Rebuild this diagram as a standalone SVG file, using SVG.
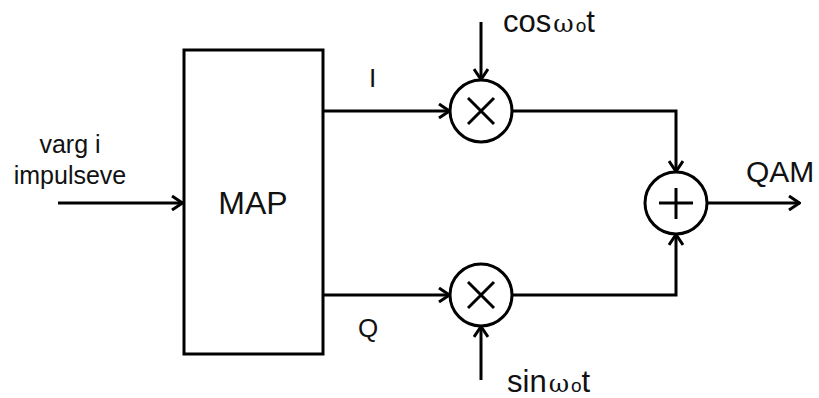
<svg xmlns="http://www.w3.org/2000/svg" width="819" height="398" viewBox="0 0 819 398">
<style>
.ln{fill:none;stroke:#000;stroke-width:3;stroke-linecap:butt}
.sh{fill:#fff;stroke:#000;stroke-width:3}
.t{font-family:"Liberation Sans",Arial,sans-serif;fill:#111}
.w{font-family:"DejaVu Serif",serif;font-size:25px}
.o{font-size:19px}
</style>
<defs>
<marker id="ah" viewBox="0 0 14 16" refX="13" refY="8" markerWidth="14" markerHeight="16" markerUnits="userSpaceOnUse" orient="auto">
<path d="M2,1 L12.5,8 L2,15" fill="none" stroke="#000" stroke-width="3"/>
</marker>
</defs>
<rect width="819" height="398" fill="#fff"/>
<g id="connectors">
<line class="ln" x1="58" y1="203" x2="183" y2="203" marker-end="url(#ah)"/>
<line class="ln" x1="323" y1="111" x2="450" y2="111" marker-end="url(#ah)"/>
<line class="ln" x1="323" y1="295" x2="450" y2="295" marker-end="url(#ah)"/>
<line class="ln" x1="481" y1="22" x2="481" y2="80" marker-end="url(#ah)"/>
<line class="ln" x1="481" y1="380" x2="481" y2="326" marker-end="url(#ah)"/>
<polyline class="ln" points="512,111 676,111 676,172" marker-end="url(#ah)"/>
<polyline class="ln" points="512,295 676,295 676,234" marker-end="url(#ah)"/>
<line class="ln" x1="707" y1="203" x2="800" y2="203" marker-end="url(#ah)"/>
</g>
<g id="map">
<rect class="sh" x="184" y="50" width="139" height="304"/>
<text class="t" x="253" y="214" font-size="32" text-anchor="middle">MAP</text>
</g>
<g id="mult-cos">
<circle class="sh" cx="481" cy="111" r="31"/>
<path class="ln" d="M468,98 L494,124 M494,98 L468,124"/>
</g>
<g id="mult-sin">
<circle class="sh" cx="481" cy="295" r="31"/>
<path class="ln" d="M468,282 L494,308 M494,282 L468,308"/>
</g>
<g id="adder">
<circle class="sh" cx="676" cy="203" r="31"/>
<path class="ln" d="M659,203 L693,203 M676,188 L676,219"/>
</g>
<g id="labels">
<text class="t" x="70" y="153" font-size="25" text-anchor="middle">varg i</text>
<text class="t" x="70" y="184" font-size="25" text-anchor="middle">impulseve</text>
<text class="t" x="369" y="87" font-size="26">I</text>
<text class="t" x="358" y="337" font-size="26">Q</text>
<text class="t" x="746" y="182" font-size="30">QAM</text>
<text class="t" x="503" y="32" font-size="31">cos<tspan class="w" dx="2" letter-spacing="2">ω</tspan><tspan class="o">o</tspan>t</text>
<text class="t" x="507" y="392" font-size="31">sin<tspan class="w" dx="2" letter-spacing="2">ω</tspan><tspan class="o">o</tspan>t</text>
</g>
</svg>
